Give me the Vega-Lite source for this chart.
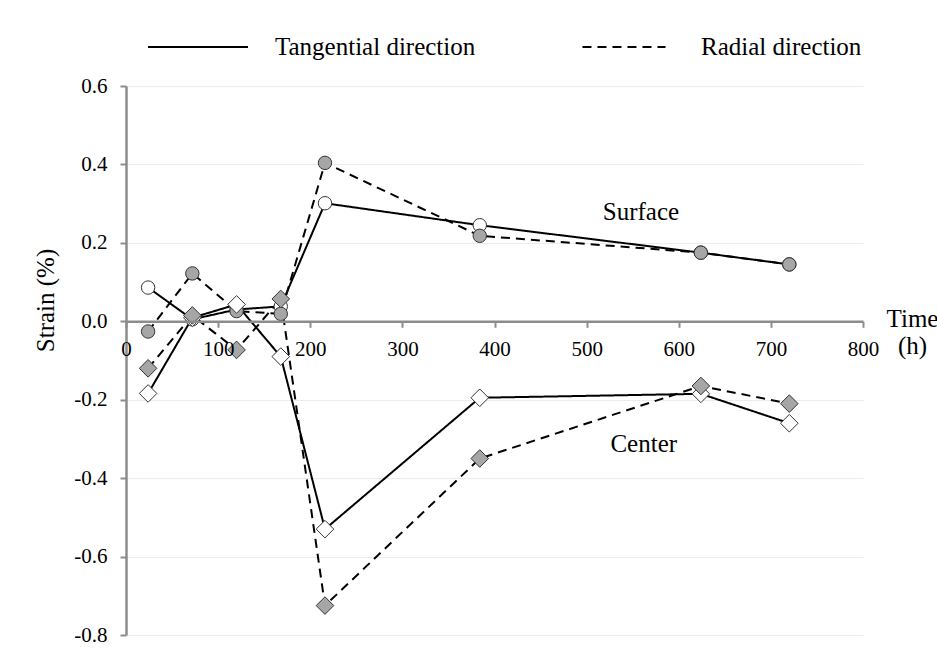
{
  "$schema": "https://vega.github.io/schema/vega-lite/v6.json",
  "width": 737,
  "height": 549,
  "autosize": {"type": "none"},
  "padding": {"left": 126, "top": 86, "right": 74, "bottom": 15},
  "background": "white",
  "config": {
    "view": {"stroke": null},
    "font": "Liberation Serif",
    "axis": {"labelFont": "Liberation Serif", "titleFont": "Liberation Serif", "labelColor": "black", "titleColor": "black", "titleFontWeight": "normal"},
    "legend": {"labelFont": "Liberation Serif"}
  },
  "datasets": {
    "strain": [
      {"time": 24, "strain": 0.086, "location": "Surface", "direction": "Tangential direction"},
      {"time": 72, "strain": 0.005, "location": "Surface", "direction": "Tangential direction"},
      {"time": 120, "strain": 0.03, "location": "Surface", "direction": "Tangential direction"},
      {"time": 168, "strain": 0.038, "location": "Surface", "direction": "Tangential direction"},
      {"time": 216, "strain": 0.301, "location": "Surface", "direction": "Tangential direction"},
      {"time": 384, "strain": 0.245, "location": "Surface", "direction": "Tangential direction"},
      {"time": 624, "strain": 0.175, "location": "Surface", "direction": "Tangential direction"},
      {"time": 720, "strain": 0.145, "location": "Surface", "direction": "Tangential direction"},
      {"time": 24, "strain": -0.026, "location": "Surface", "direction": "Radial direction"},
      {"time": 72, "strain": 0.122, "location": "Surface", "direction": "Radial direction"},
      {"time": 120, "strain": 0.026, "location": "Surface", "direction": "Radial direction"},
      {"time": 168, "strain": 0.019, "location": "Surface", "direction": "Radial direction"},
      {"time": 216, "strain": 0.404, "location": "Surface", "direction": "Radial direction"},
      {"time": 384, "strain": 0.218, "location": "Surface", "direction": "Radial direction"},
      {"time": 624, "strain": 0.175, "location": "Surface", "direction": "Radial direction"},
      {"time": 720, "strain": 0.145, "location": "Surface", "direction": "Radial direction"},
      {"time": 24, "strain": -0.184, "location": "Center", "direction": "Tangential direction"},
      {"time": 72, "strain": 0.009, "location": "Center", "direction": "Tangential direction"},
      {"time": 120, "strain": 0.043, "location": "Center", "direction": "Tangential direction"},
      {"time": 168, "strain": -0.09, "location": "Center", "direction": "Tangential direction"},
      {"time": 216, "strain": -0.53, "location": "Center", "direction": "Tangential direction"},
      {"time": 384, "strain": -0.195, "location": "Center", "direction": "Tangential direction"},
      {"time": 624, "strain": -0.185, "location": "Center", "direction": "Tangential direction"},
      {"time": 720, "strain": -0.26, "location": "Center", "direction": "Tangential direction"},
      {"time": 24, "strain": -0.12, "location": "Center", "direction": "Radial direction"},
      {"time": 72, "strain": 0.015, "location": "Center", "direction": "Radial direction"},
      {"time": 120, "strain": -0.073, "location": "Center", "direction": "Radial direction"},
      {"time": 168, "strain": 0.057, "location": "Center", "direction": "Radial direction"},
      {"time": 216, "strain": -0.725, "location": "Center", "direction": "Radial direction"},
      {"time": 384, "strain": -0.35, "location": "Center", "direction": "Radial direction"},
      {"time": 624, "strain": -0.165, "location": "Center", "direction": "Radial direction"},
      {"time": 720, "strain": -0.21, "location": "Center", "direction": "Radial direction"}
    ],
    "notes": [
      {"time": 559, "strain": 0.279, "label": "Surface"},
      {"time": 562, "strain": -0.312, "label": "Center"}
    ]
  },
  "data": {"name": "strain"},
  "encoding": {
    "x": {
      "field": "time", "type": "quantitative",
      "scale": {"domain": [0, 800], "nice": false, "zero": false},
      "axis": {
        "values": [0, 100, 200, 300, 400, 500, 600, 700, 800],
        "format": "d",
        "grid": false,
        "offset": -313.7,
        "zindex": 1,
        "domainColor": "#8c8c8c", "domainWidth": 2.5,
        "tickColor": "#8c8c8c", "tickWidth": 2, "tickSize": 6,
        "labelFontSize": 21, "labelPadding": 11,
        "labelFlush": false, "labelOverlap": false,
        "title": ["Time", "(h)"],
        "titleFontSize": 25,
        "titleX": 786, "titleY": -14.5,
        "titleAlign": "center", "titleAnchor": null,
        "titleBaseline": "top", "titleLineHeight": 27, "titleAngle": 0
      }
    },
    "y": {
      "field": "strain", "type": "quantitative",
      "scale": {"domain": [-0.8, 0.6], "nice": false, "zero": false},
      "axis": {
        "values": [-0.8, -0.6, -0.4, -0.2, 0, 0.2, 0.4, 0.6],
        "labelExpr": "(datum.value < -0.001 ? '-' : '') + format(abs(datum.value), '.1f')",
        "grid": true, "gridColor": "#ececec", "gridWidth": 1.2,
        "domainColor": "#8c8c8c", "domainWidth": 2.5,
        "tickColor": "#8c8c8c", "tickWidth": 2, "tickSize": 6,
        "labelFontSize": 21, "labelPadding": 13,
        "title": "Strain (%)",
        "titleFontSize": 25,
        "titleX": -81, "titleY": 214,
        "titleAlign": "center", "titleAnchor": null,
        "titleBaseline": "middle", "titleAngle": -90
      }
    }
  },
  "layer": [
    {
      "mark": {"type": "line", "color": "black", "strokeWidth": 2},
      "encoding": {
        "detail": {"field": "location"},
        "strokeDash": {
          "field": "direction", "type": "nominal",
          "scale": {"domain": ["Tangential direction", "Radial direction"], "range": [[1, 0], [9, 6]]},
          "legend": {
            "title": null,
            "orient": "none",
            "legendX": 21,
            "legendY": -90,
            "direction": "horizontal",
            "symbolType": "stroke",
            "symbolSize": 10000,
            "symbolStrokeWidth": 2,
            "symbolStrokeColor": "black",
            "labelFontSize": 25,
            "labelColor": "black",
            "labelLimit": 0,
            "labelOffset": 26,
            "columnPadding": 97,
            "padding": 0,
            "encode": {
              "symbols": {
                "update": {
                  "size": {"signal": "datum.value === 'Radial direction' ? 6900 : 10000"}
                }
              }
            }
          }
        }
      }
    },
    {
      "mark": {"type": "point", "filled": true, "opacity": 1, "stroke": "#333333", "strokeWidth": 1},
      "encoding": {
        "shape": {"field": "location", "type": "nominal", "scale": {"domain": ["Surface", "Center"], "range": ["circle", "diamond"]}, "legend": null},
        "size": {"field": "location", "type": "nominal", "scale": {"domain": ["Surface", "Center"], "range": [180, 310]}, "legend": null},
        "fill": {"field": "direction", "type": "nominal", "scale": {"domain": ["Tangential direction", "Radial direction"], "range": ["white", "#a6a6a6"]}, "legend": null}
      }
    },
    {
      "data": {"name": "notes"},
      "mark": {"type": "text", "font": "Liberation Serif", "fontSize": 25, "color": "black", "align": "center", "baseline": "middle"},
      "encoding": {"text": {"field": "label"}}
    }
  ]
}
